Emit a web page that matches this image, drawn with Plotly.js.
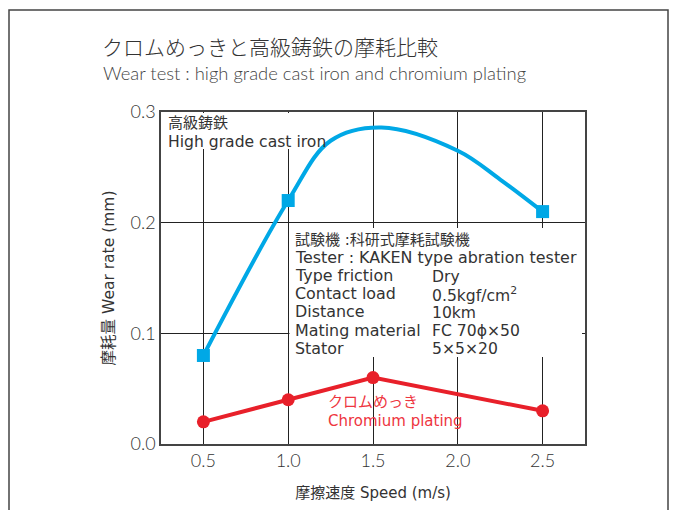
<!DOCTYPE html>
<html><head><meta charset="utf-8">
<script src="https://cdn.plot.ly/plotly-3.0.1.min.js"></script>
<style>html,body{margin:0;padding:0;background:#fff;}#chart{width:675px;height:510px;}</style>
</head><body><div id="chart"></div>
<script>
// Measured points
const ironSpeed = [0.5, 1.0, 2.5];
const ironWear = [0.08, 0.22, 0.21];
// Fitted curve for cast iron
const ironCurveSpeed = [0.5, 1.0, 1.25, 1.55, 2.0, 2.25, 2.5];
const ironCurveWear = [0.08, 0.22, 0.274, 0.286, 0.265, 0.239, 0.21];
const chromeSpeed = [0.5, 1.0, 1.5, 2.5];
const chromeWear = [0.02, 0.04, 0.06, 0.03];
const xTicks = [0.5, 1.0, 1.5, 2.0, 2.5];
const xTickText = ['0.5', '1.0', '1.5', '2.0', '2.5'];
const yTicks = [0, 0.1, 0.2, 0.3];
const yTickText = ['0.0', '0.1', '0.2', '0.3'];
const ironLabel = ['高級鋳鉄', 'High grade cast iron'];
const chromeLabel = ['クロムめっき', 'Chromium plating'];
const infoLeft = ['試験機 :科研式摩耗試験機', 'Tester : KAKEN type abration tester', 'Type friction', 'Contact load', 'Distance', 'Mating material', 'Stator'];
const infoRight = ['Dry', '0.5kgf/cm<sup>2</sup>', '10km', 'FC 70ϕ×50', '5×5×20'];

const BLUE = '#00a8e6', RED = '#e8202a', INK = '#333333';
const BOX = 'DejaVu Sans, Noto Sans CJK JP, sans-serif';
const GEO = 'Lato, Noto Sans CJK JP, sans-serif';

// pixel helpers (plot area: x 161..585, y 112..444)
const px = v => (v - 161) / 424;
const py = v => (444 - v) / 332;

const traces = [
  {x: ironCurveSpeed, y: ironCurveWear, mode: 'lines', line: {color: BLUE, width: 4, shape: 'spline', smoothing: 1}, hoverinfo: 'skip'},
  {x: ironSpeed, y: ironWear, mode: 'markers', marker: {color: BLUE, symbol: 'square', size: 13}, hoverinfo: 'skip'},
  {x: chromeSpeed, y: chromeWear, mode: 'lines+markers', line: {color: RED, width: 4}, marker: {color: RED, symbol: 'circle', size: 13}, hoverinfo: 'skip'}
];

const ann = [
  {text: 'Wear test : high grade cast iron and chromium plating', xref: 'paper', yref: 'paper', x: px(101), y: py(73), xanchor: 'left', yanchor: 'middle', showarrow: false, font: {family: GEO, size: 18.4, color: '#444', weight: 300}}
];
const lineAnn = (t, x, y, color, size) => ({text: t, xref: 'paper', yref: 'paper', x: px(x), y: py(y), xanchor: 'left', yanchor: 'middle', align: 'left', showarrow: false, font: {family: BOX, size: size, color: color}});
ironLabel.forEach((t, i) => ann.push(lineAnn(t, 166, 123 + i * 19, INK, i ? 15.6 : 15)));
chromeLabel.forEach((t, i) => ann.push(lineAnn(t, 326, 402 + i * 18.5, '#ee3540', 15)));
infoLeft.forEach((t, i) => ann.push(lineAnn(t, 293, 239.5 + i * 18.1, INK, i ? 15.9 : 15)));
infoRight.forEach((t, i) => ann.push(lineAnn(t, 430, 276.5 + i * 18.1, INK, 15.6)));

const layout = {
  width: 675, height: 510,
  margin: {l: 161, r: 90, t: 112, b: 66},
  paper_bgcolor: '#fff', plot_bgcolor: '#fff',
  showlegend: false, hovermode: false, dragmode: false,
  title: {text: 'クロムめっきと高級鋳鉄の摩耗比較', x: 102/675, xref: 'container', xanchor: 'left', y: 1 - 48/510, yref: 'container', yanchor: 'middle', font: {family: 'Noto Sans CJK JP, sans-serif', size: 21, color: INK, weight: 300}},
  xaxis: {range: [0.25, 2.75], tickvals: xTicks, ticktext: xTickText, showgrid: true, gridcolor: '#222', gridwidth: 1, zeroline: false, showline: true, mirror: true, linecolor: '#444', linewidth: 1.5, ticks: '', fixedrange: true, tickfont: {family: GEO, size: 18, color: INK, weight: 300},
    title: {text: '摩擦速度 Speed (m/s)', font: {family: BOX, size: 15, color: INK}, standoff: 17}},
  yaxis: {range: [0, 0.3], tickvals: yTicks, ticktext: yTickText, showgrid: true, gridcolor: '#222', gridwidth: 1, zeroline: false, showline: true, mirror: true, linecolor: '#444', linewidth: 1.5, ticks: '', fixedrange: true, tickfont: {family: GEO, size: 18, color: INK, weight: 300},
    title: {text: '摩耗量 Wear rate (mm)', font: {family: BOX, size: 15.5, color: INK}, standoff: 12}},
  shapes: [
    {type: 'rect', xref: 'paper', yref: 'paper', x0: px(9), x1: px(668), y0: py(520), y1: py(10), line: {color: '#444', width: 1.5}, fillcolor: 'rgba(0,0,0,0)'},
    {type: 'rect', xref: 'paper', yref: 'paper', layer: 'above', x0: px(289.5), x1: px(582), y0: py(357), y1: py(228), line: {width: 0}, fillcolor: '#fff'},
    {type: 'rect', xref: 'paper', yref: 'paper', layer: 'above', x0: px(162), x1: px(316), y0: py(149), y1: py(113), line: {width: 0}, fillcolor: '#fff'},
    {type: 'rect', xref: 'paper', yref: 'paper', layer: 'between', x0: px(324), x1: px(466), y0: py(430), y1: py(386), line: {width: 0}, fillcolor: '#fff'}
  ],
  annotations: ann
};
Plotly.newPlot('chart', traces, layout, {displayModeBar: false});
</script></body></html>
